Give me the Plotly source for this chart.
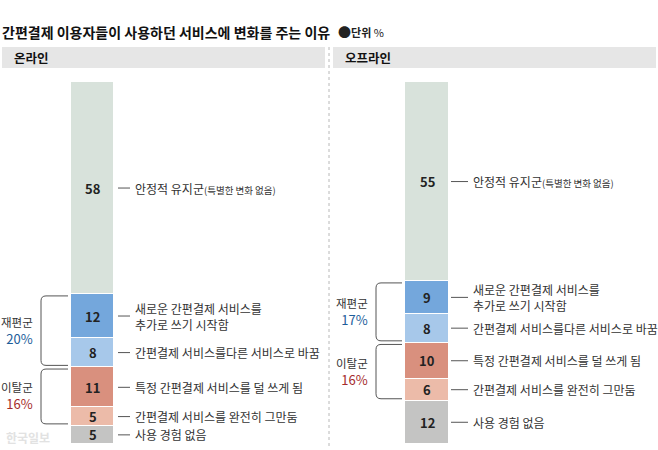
import plotly.graph_objects as go

W, H = 658, 450
def px(x): return x / W
def py(y): return 1 - y / H

FONT = "Noto Sans CJK KR"

# ---- data (bottom -> top) ----
categories = [
    "사용 경험 없음",
    "간편결제 서비스를 완전히 그만둠",
    "특정 간편결제 서비스를 덜 쓰게 됨",
    "간편결제 서비스를다른 서비스로 바꿈",
    "새로운 간편결제 서비스를<br>추가로 쓰기 시작함",
    "안정적 유지군<span style='font-size:9.5px'>(특별한 변화 없음)</span>",
]
online_values = [5, 5, 11, 8, 12, 58]
offline_values = [12, 6, 10, 8, 9, 55]
panel_titles = ["온라인", "오프라인"]
group_names = ["재편군", "이탈군"]
group_members = [[3, 4], [1, 2]]
colors = ["#c4c4c3", "#ecbba9", "#d9907e", "#a7c8ea", "#74a7dc", "#d8e2db"]
group_colors = ["#1d5d9a", "#a52b2b"]

fig = go.Figure()

panels = [
    dict(vals=online_values, xa="x", ya="y", bar=(71, 114), line=(118, 130), text_x=133,
         br_v=41, br_h=68, glabel_x=35, head=(2, 325)),
    dict(vals=offline_values, xa="x2", ya="y2", bar=(405, 449), line=(451, 468), text_x=471,
         br_v=376, br_h=402, glabel_x=370, head=(333, 656)),
]

annotations = []
shapes = []

# title
annotations.append(dict(text="<b>간편결제 이용자들이 사용하던 서비스에 변화를 주는 이유</b>",
                        x=px(0), y=py(32), xref="paper", yref="paper", xanchor="left",
                        yanchor="middle", showarrow=False,
                        font=dict(family=FONT, size=14, color="#111")))
annotations.append(dict(text="<span style='font-size:13px'>●</span><b>단위</b> %", x=px(336), y=py(31),
                        xref="paper", yref="paper",
                        xanchor="left", yanchor="middle", showarrow=False,
                        font=dict(family=FONT, size=11, color="#222")))

# divider
shapes.append(dict(type="line", xref="paper", yref="paper", x0=px(329), x1=px(329),
                   y0=py(47), y1=py(446), line=dict(color="#b8b8b8", width=1, dash="dot")))

for pi, p in enumerate(panels):
    vals = p["vals"]
    total = sum(vals)
    xa, ya = p["xa"], p["ya"]
    axn = "" if pi == 0 else "2"
    # header
    hx0, hx1 = p["head"]
    shapes.append(dict(type="rect", xref="paper", yref="paper", x0=px(hx0), x1=px(hx1),
                       y0=py(68), y1=py(47), fillcolor="#e6e6e6", line=dict(width=0),
                       layer="below"))
    annotations.append(dict(text="<b>" + panel_titles[pi] + "</b>", x=px(hx0 + 10), y=py(57.5),
                            xref="paper", yref="paper", xanchor="left", yanchor="middle",
                            showarrow=False, font=dict(family=FONT, size=12.5, color="#111")))
    cum = 0
    bounds = []
    for i, v in enumerate(vals):
        fig.add_trace(go.Bar(x=[0], y=[v], xaxis=xa, yaxis=ya, width=1,
                             marker=dict(color=colors[i], line=dict(color="white", width=1.2)),
                             showlegend=False, hoverinfo="skip"))
        mid = cum + v / 2
        bounds.append((cum, cum + v))
        annotations.append(dict(text="<b>%d</b>" % v, x=0, y=mid, xref=xa, yref=ya,
                                showarrow=False, xanchor="center", yanchor="middle",
                                font=dict(family=FONT, size=13, color="#222")))
        annotations.append(dict(text=categories[i], x=px(p["text_x"]), y=mid, xref="paper",
                                yref=ya, xanchor="left", yanchor="middle", align="left",
                                showarrow=False,
                                font=dict(family=FONT, size=12, color="#333")))
        shapes.append(dict(type="line", xref="paper", yref=ya, x0=px(p["line"][0]),
                           x1=px(p["line"][1]), y0=mid, y1=mid,
                           line=dict(color="#555", width=1)))
        cum += v
    # groups
    for gi, members in enumerate(group_members):
        lo = min(bounds[m][0] for m in members) + 0.5
        hi = max(bounds[m][1] for m in members) - 0.5
        gsum = sum(vals[m] for m in members)
        xv, xh = px(p["br_v"]), px(p["br_h"])
        r_x = 5 / W
        r_y = 5 * total / 362
        path = (f"M {xh},{hi} L {xv + r_x},{hi} Q {xv},{hi} {xv},{hi - r_y} "
                f"L {xv},{lo + r_y} Q {xv},{lo} {xv + r_x},{lo} L {xh},{lo}")
        shapes.append(dict(type="path", xref="paper", yref=ya, path=path,
                           line=dict(color="#555", width=1)))
        annotations.append(dict(
            text=(f"<span style='font-size:11.5px'>{group_names[gi]}</span><br>"
                  f"<span style='color:{group_colors[gi]}'>{gsum}%</span>"),
            x=px(p["glabel_x"]), y=(lo + hi) / 2, xref="paper", yref=ya, xanchor="right",
            yanchor="middle", align="right", showarrow=False,
            font=dict(family=FONT, size=13, color="#333")))
    bx0, bx1 = p["bar"]
    fig.layout["xaxis" + axn] = dict(domain=[px(bx0), px(bx1)], range=[-0.5, 0.5],
                                     visible=False, fixedrange=True,
                                     anchor="y" + axn)
    fig.layout["yaxis" + axn] = dict(domain=[py(444), py(82)], range=[0, total],
                                     visible=False, fixedrange=True,
                                     anchor="x" + axn)

# watermark
annotations.append(dict(text="<b>한국일보</b>", x=px(4), y=py(437), xref="paper", yref="paper",
                        xanchor="left", yanchor="middle", showarrow=False,
                        font=dict(family=FONT, size=12, color="#e2e2e2")))

fig.update_layout(width=W, height=H, margin=dict(l=0, r=0, t=0, b=0),
                  paper_bgcolor="white", plot_bgcolor="white", barmode="stack",
                  bargap=0, annotations=annotations, shapes=shapes, showlegend=False)

fig.write_html("out.html", config={"displayModeBar": False})
